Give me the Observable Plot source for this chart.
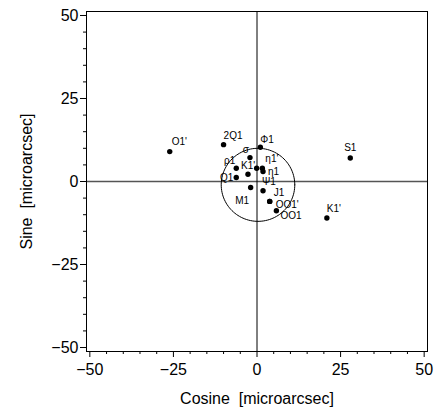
<!DOCTYPE html>
<html>
<head>
<meta charset="utf-8">
<script src="https://cdn.jsdelivr.net/npm/d3@7"></script>
<script src="https://cdn.jsdelivr.net/npm/@observablehq/plot@0.6"></script>
<style>
  html, body { margin: 0; padding: 0; background: #fff; }
  svg { display: block; }
</style>
</head>
<body>
<div id="chart"></div>
<script>
// Tidal terms: cosine / sine amplitudes (microarcsec)
const names  = ["O1'", "2Q1", "Φ1", "σ",  "ρ1", "K1'", "η1'", "η1", "",   "Q1", "M1", "Ψ1", "J1", "OO1'", "OO1", "S1", "K1'"];
const cosine = [-26.1, -10.0,  1.0, -2.1, -6.2, -0.1,   1.6,  1.8, -2.7, -6.2, -1.9,  1.8,  3.8,  3.8,    5.8,  27.9, 20.9];
const sine   = [  9.0,  11.1, 10.3,  7.2,  4.0,  4.0,   4.0,  3.0,  2.2,  1.2, -1.8, -2.8, -6.0, -6.0,   -8.8,   7.1, -11.0];

// Reference circle (center and radius in microarcsec)
const circleCenter = [0.3, -1.0];
const circleRadius = [11];

const majorTicks = [-50, -25, 0, 25, 50];
const minorTicks = [-45, -40, -35, -30, -20, -15, -10, -5, 5, 10, 15, 20, 30, 35, 40, 45];

const points = names.map((n, i) => ({name: n, x: cosine[i], y: sine[i]}));

// label placement styles (pixel offsets), by point index
const labelStyle = [
  {a: "start", dx: 2, dy: -10},   // O1'
  {a: "start", dx: 0, dy: -9},    // 2Q1
  {a: "start", dx: 0, dy: -8},    // Φ1
  {a: "end", dx: -1, dy: -7.5},   // σ
  {a: "end", dx: -1, dy: -7},     // ρ1
  {a: "end", dx: -1.5, dy: -2},   // K1'
  {a: "start", dx: 3, dy: -9},    // η1'
  {a: "start", dx: 5, dy: 0},     // η1
  {a: "start", dx: 0, dy: 0},     // (none)
  {a: "end", dx: -3, dy: 0},      // Q1
  {a: "end", dx: -1.5, dy: 13},   // M1
  {a: "start", dx: -1, dy: -9},   // Ψ1
  {a: "start", dx: 4, dy: -9},    // J1
  {a: "start", dx: 6, dy: 3},     // OO1'
  {a: "start", dx: 4, dy: 5},     // OO1
  {a: "middle", dx: 0, dy: -10.5},// S1
  {a: "start", dx: 0, dy: -9}     // K1'
];

// circle geometry
const circlePts = d3.range(0, 361, 3).map(t => ({
  x: circleCenter[0] + circleRadius[0] * Math.cos(t * Math.PI / 180),
  y: circleCenter[1] + circleRadius[0] * Math.sin(t * Math.PI / 180)
}));

const font = "'Liberation Sans', Arial, Helvetica, sans-serif";
const fmt = d => d === 0 ? "0" : d3.format("")(d).replace("-", "−");

const labelMarks = points.map((p, i) => p.name ? Plot.text([p], {
  x: "x", y: "y", text: "name",
  textAnchor: labelStyle[i].a, dx: labelStyle[i].dx, dy: labelStyle[i].dy,
  fontSize: 10, fill: "#000"
}) : null).filter(Boolean);

const chart = Plot.plot({
  width: 440,
  height: 408,
  marginLeft: 86,
  marginRight: 13,
  marginTop: 11,
  marginBottom: 57,
  style: {fontFamily: font, background: "#fff", color: "#000"},
  x: {domain: [-51, 51]},
  y: {domain: [-51.2, 51.2]},
  marks: [
    Plot.ruleY([0], {stroke: "#555", strokeWidth: 1.5}),
    Plot.ruleX([0], {stroke: "#000", strokeWidth: 1}),
    Plot.line(circlePts, {x: "x", y: "y", stroke: "#000", strokeWidth: 1}),
    Plot.axisX({ticks: majorTicks, tickSize: 6, tickPadding: 6, fontSize: 16, tickFormat: fmt,
      label: "Cosine  [microarcsec]", labelAnchor: "center", labelOffset: 52, labelArrow: "none"}),
    Plot.axisX({ticks: minorTicks, tickSize: 3, tickFormat: () => "", label: null}),
    Plot.axisY({ticks: majorTicks, tickSize: 6, tickPadding: 2, fontSize: 16, tickFormat: fmt,
      label: "Sine  [microarcsec]", labelAnchor: "center", labelOffset: 66, labelArrow: "none"}),
    Plot.axisY({ticks: minorTicks, tickSize: 3, tickFormat: () => "", label: null}),
    Plot.frame({stroke: "#000", strokeWidth: 1}),
    Plot.dot(points, {x: "x", y: "y", r: 2.7, fill: "#000", stroke: "none"}),
    ...labelMarks
  ]
});

document.getElementById("chart").appendChild(chart);
</script>
</body>
</html>
